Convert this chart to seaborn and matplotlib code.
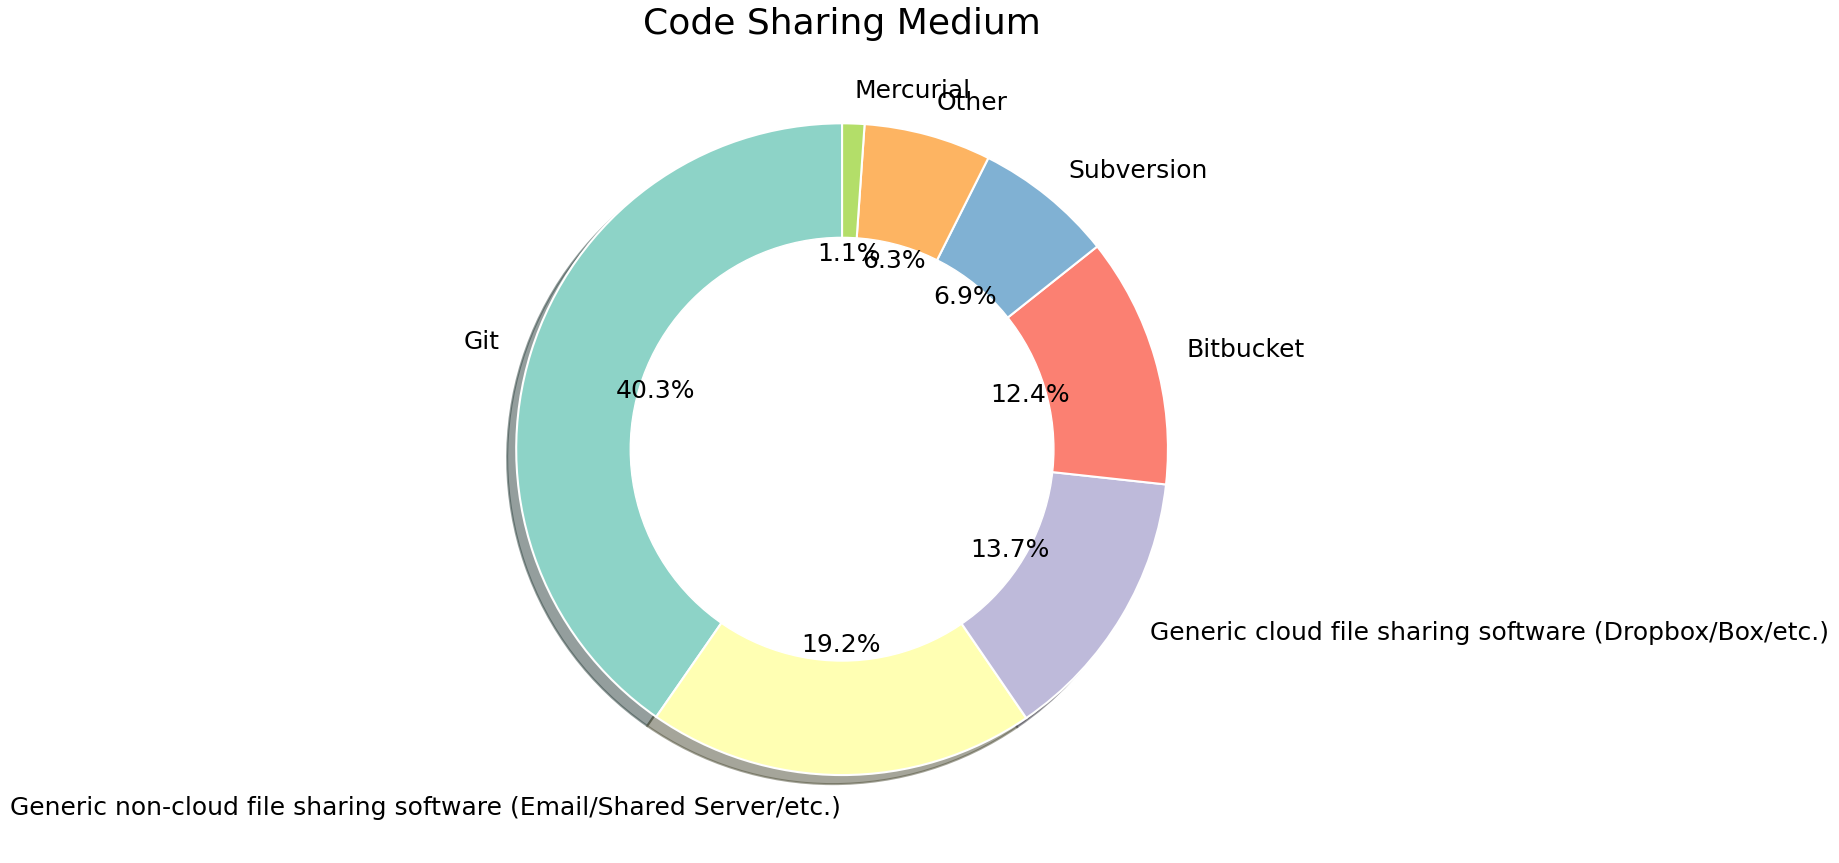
import matplotlib
matplotlib.use("Agg")
import matplotlib.pyplot as plt
import seaborn as sns

categories = ["Git",
              "Generic non-cloud file sharing software (Email/Shared Server/etc.)",
              "Generic cloud file sharing software (Dropbox/Box/etc.)",
              "Bitbucket",
              "Subversion",
              "Other",
              "Mercurial"]
shares = [40.3, 19.2, 13.7, 12.4, 6.9, 6.3, 1.1]
title = "Code Sharing Medium"

sns.set_style("white")
plt.rcParams['font.family'] = ['DejaVu Sans']
plt.rcParams['text.color'] = 'black'
colors = sns.color_palette("Set3", len(categories))

fig = plt.figure(figsize=(18.39, 8.63), dpi=100)
ax = fig.add_axes([0.2363, 0.0075, 0.4432, 0.944])
wedges, texts, autotexts = ax.pie(
    shares, labels=categories, colors=colors, autopct="%1.1f%%",
    startangle=90, shadow=True, pctdistance=0.6, labeldistance=1.1,
    wedgeprops=dict(edgecolor="white", linewidth=1.5),
    textprops=dict(fontsize=18, color="black"))
hole = plt.Circle((0, 0), 0.65, fc="white", zorder=3)
ax.add_artist(hole)
for t in autotexts:
    t.set_zorder(5)
ax.set_xlim(-1.25, 1.25)
ax.set_ylim(-1.25, 1.25)
ax.set_aspect("equal")
ax.set_title(title, fontsize=26, color="black")
ax.axis("off")
fig.savefig("out.png", dpi=100)
